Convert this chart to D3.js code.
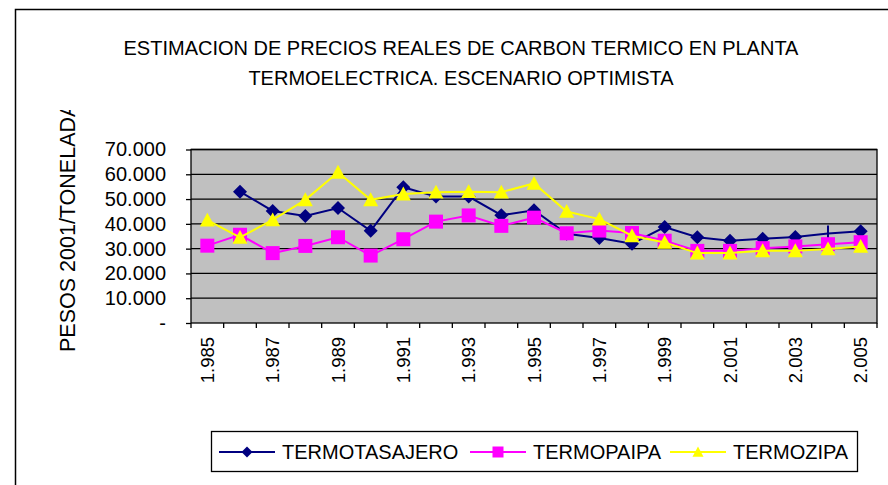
<!DOCTYPE html>
<html>
<head>
<meta charset="utf-8">
<script src="https://cdn.jsdelivr.net/npm/d3@7"></script>
<style>
  body { margin: 0; background: #fff; }
  svg { display: block; font-family: "Liberation Sans", Arial, sans-serif; }
</style>
</head>
<body>
<div id="chart"></div>
<script>
// Data
const years = [1985, 1986, 1987, 1988, 1989, 1990, 1991, 1992, 1993, 1994, 1995,
  1996, 1997, 1998, 1999, 2000, 2001, 2002, 2003, 2004, 2005];
const tasajero = [null, 53000, 45200, 43200, 46400, 37200, 54800, 51000, 51000, 43500, 45500,
  36000, 34300, 32000, 38700, 34600, 33200, 34000, 34700, 36100, 37000];
const paipa = [31200, 35600, 28200, 31100, 34600, 27200, 33800, 40900, 43400, 39200, 42500,
  36200, 37300, 36300, 33200, 29100, 29100, 30200, 30900, 31800, 32600];
const zipa = [41500, 34500, 41600, 49700, 60800, 49700, 52000, 52800, 53000, 52800, 56300,
  45000, 41900, 35200, 32500, 28200, 28200, 29100, 29100, 29900, 30900];
const yTicks = [0, 10000, 20000, 30000, 40000, 50000, 60000, 70000];
const xTickYears = [1985, 1987, 1989, 1991, 1993, 1995, 1997, 1999, 2001, 2003, 2005];
const titleLines = [
  "ESTIMACION DE PRECIOS REALES DE CARBON TERMICO EN PLANTA",
  "TERMOELECTRICA. ESCENARIO OPTIMISTA",
];
const yTitle = "PESOS 2001/TONELADA";

const series = [
  { name: "TERMOTASAJERO", values: tasajero, color: "#000080", marker: "diamond" },
  { name: "TERMOPAIPA", values: paipa, color: "#FF00FF", marker: "square" },
  { name: "TERMOZIPA", values: zipa, color: "#FFFF00", marker: "triangle" },
];

// Dimensions
const width = 888;
const height = 485;
const plot = { left: 191, right: 877, top: 149.5, bottom: 323 };

// Formatter: 70.000 style, zero shown as "-"
const locale = d3.formatLocale({ decimal: ",", thousands: ".", grouping: [3], currency: ["$", ""] });
const formatThousands = locale.format(",");
const formatValue = (d) => (d === 0 ? "-" : formatThousands(d));
const formatYear = (d) => formatThousands(d);

// Scales
const xBand = d3.scaleBand().domain(years).range([plot.left, plot.right]);
const xScale = (d) => xBand(d) + xBand.bandwidth() / 2;
const yScale = d3.scaleLinear().domain([0, 70000]).range([plot.bottom, plot.top]);

const svg = d3.select("#chart").append("svg").attr("width", width).attr("height", height);

// Outer chart border
svg.append("rect")
  .attr("x", 15.5).attr("y", 9.5)
  .attr("width", width).attr("height", height)
  .attr("fill", "#fff").attr("stroke", "#000").attr("stroke-width", 1.5);

// Title
svg.append("g")
  .selectAll("text")
  .data(titleLines)
  .join("text")
  .attr("x", 461)
  .attr("y", (d, i) => 55 + i * 30)
  .attr("text-anchor", "middle")
  .attr("font-size", 20)
  .text((d) => d);

// Plot background
svg.append("rect")
  .attr("x", plot.left).attr("y", plot.top)
  .attr("width", plot.right - plot.left).attr("height", plot.bottom - plot.top)
  .attr("fill", "#C0C0C0");

// Gridlines
svg.append("g")
  .selectAll("line")
  .data(yTicks.filter((d) => d > 0))
  .join("line")
  .attr("x1", plot.left).attr("x2", plot.right)
  .attr("y1", (d) => yScale(d)).attr("y2", (d) => yScale(d))
  .attr("stroke", "#000").attr("stroke-width", 1.3);

// Plot border
svg.append("rect")
  .attr("x", plot.left).attr("y", plot.top)
  .attr("width", plot.right - plot.left).attr("height", plot.bottom - plot.top)
  .attr("fill", "none").attr("stroke", "#000").attr("stroke-width", 1.3);

// Y axis
const yAxisG = svg.append("g")
  .attr("transform", `translate(${plot.left},0)`)
  .call(d3.axisLeft(yScale).tickValues(yTicks).tickFormat(formatValue).tickSize(5).tickPadding(20));
yAxisG.select(".domain").remove();
yAxisG.selectAll(".tick line").attr("stroke", "#000").attr("stroke-width", 1.3);
yAxisG.selectAll(".tick text")
  .attr("font-family", "'Liberation Sans', Arial, sans-serif")
  .attr("font-size", 20)
  .attr("fill", "#000");

// X axis ticks between categories
const xBounds = years.map((d) => xBand(d)).concat([plot.right]);
svg.append("g")
  .selectAll("line")
  .data(xBounds)
  .join("line")
  .attr("x1", (d) => d).attr("x2", (d) => d)
  .attr("y1", plot.bottom).attr("y2", plot.bottom + 5)
  .attr("stroke", "#000").attr("stroke-width", 1.3);

// X tick labels (rotated)
svg.append("g")
  .selectAll("text")
  .data(xTickYears)
  .join("text")
  .attr("transform", (d) => `translate(${xScale(d) + 6.5},${plot.bottom + 14}) rotate(-90)`)
  .attr("text-anchor", "end")
  .attr("font-size", 18.5)
  .text(formatYear);

// Y axis title (clipped at the top like the source)
svg.append("clipPath").attr("id", "ytitle-clip")
  .append("rect").attr("x", 0).attr("y", 110).attr("width", 120).attr("height", 300);
svg.append("g")
  .attr("clip-path", "url(#ytitle-clip)")
  .append("text")
  .attr("transform", `translate(75,352) rotate(-90)`)
  .attr("font-size", 21.5)
  .text(yTitle);

// Marker shapes
function markerPath(type, size) {
  const s = size / 2;
  if (type === "diamond") return `M0,${-s}L${s},0L0,${s}L${-s},0Z`;
  if (type === "square") return `M${-s},${-s}H${s}V${s}H${-s}Z`;
  return `M0,${-s}L${s},${s * 0.85}L${-s},${s * 0.85}Z`;
}
const markerSize = { diamond: 14, square: 14, triangle: 15 };

// Lines
const line = d3.line()
  .defined((d) => d.value != null)
  .x((d) => xScale(d.year))
  .y((d) => yScale(d.value));

const seriesG = svg.append("g")
  .selectAll("g")
  .data(series)
  .join("g");

seriesG.append("path")
  .attr("fill", "none")
  .attr("stroke", (d) => d.color)
  .attr("stroke-width", 2)
  .attr("d", (d) => line(years.map((y, i) => ({ year: y, value: d.values[i] }))));

seriesG.selectAll(".marker")
  .data((d) => years.map((y, i) => ({ year: y, value: d.values[i], s: d }))
    .filter((e) => e.value != null))
  .join("path")
  .attr("class", "marker")
  .attr("transform", (d) => `translate(${xScale(d.year)},${yScale(d.value)})`)
  .attr("d", (d) =>
    // the 2004 Tasajero point shows only a tick in the source
    d.s.marker === "diamond" && d.year === 2004 ? "M0,-8V8" : markerPath(d.s.marker, markerSize[d.s.marker]))
  .attr("fill", (d) => d.s.color)
  .attr("stroke", (d) => d.s.color)
  .attr("stroke-width", (d) => (d.s.marker === "diamond" && d.year === 2004 ? 2 : 0));

// Legend
const legend = svg.append("g");
legend.append("rect")
  .attr("x", 211.5).attr("y", 431.5)
  .attr("width", 646).attr("height", 40)
  .attr("fill", "#fff").attr("stroke", "#000").attr("stroke-width", 1.3);

const legendX = [219, 470, 670];
const legendItem = legend.selectAll(".legend-item")
  .data(series)
  .join("g")
  .attr("class", "legend-item")
  .attr("transform", (d, i) => `translate(${legendX[i]},452)`);

legendItem.append("line")
  .attr("x1", 0).attr("x2", 56)
  .attr("stroke", (d) => d.color).attr("stroke-width", 2);

legendItem.append("path")
  .attr("transform", "translate(28,0)")
  .attr("d", (d) => markerPath(d.marker, 11))
  .attr("fill", (d) => d.color);

legendItem.append("text")
  .attr("x", 63)
  .attr("y", 7)
  .attr("font-size", 20)
  .text((d) => d.name);
</script>
</body>
</html>
